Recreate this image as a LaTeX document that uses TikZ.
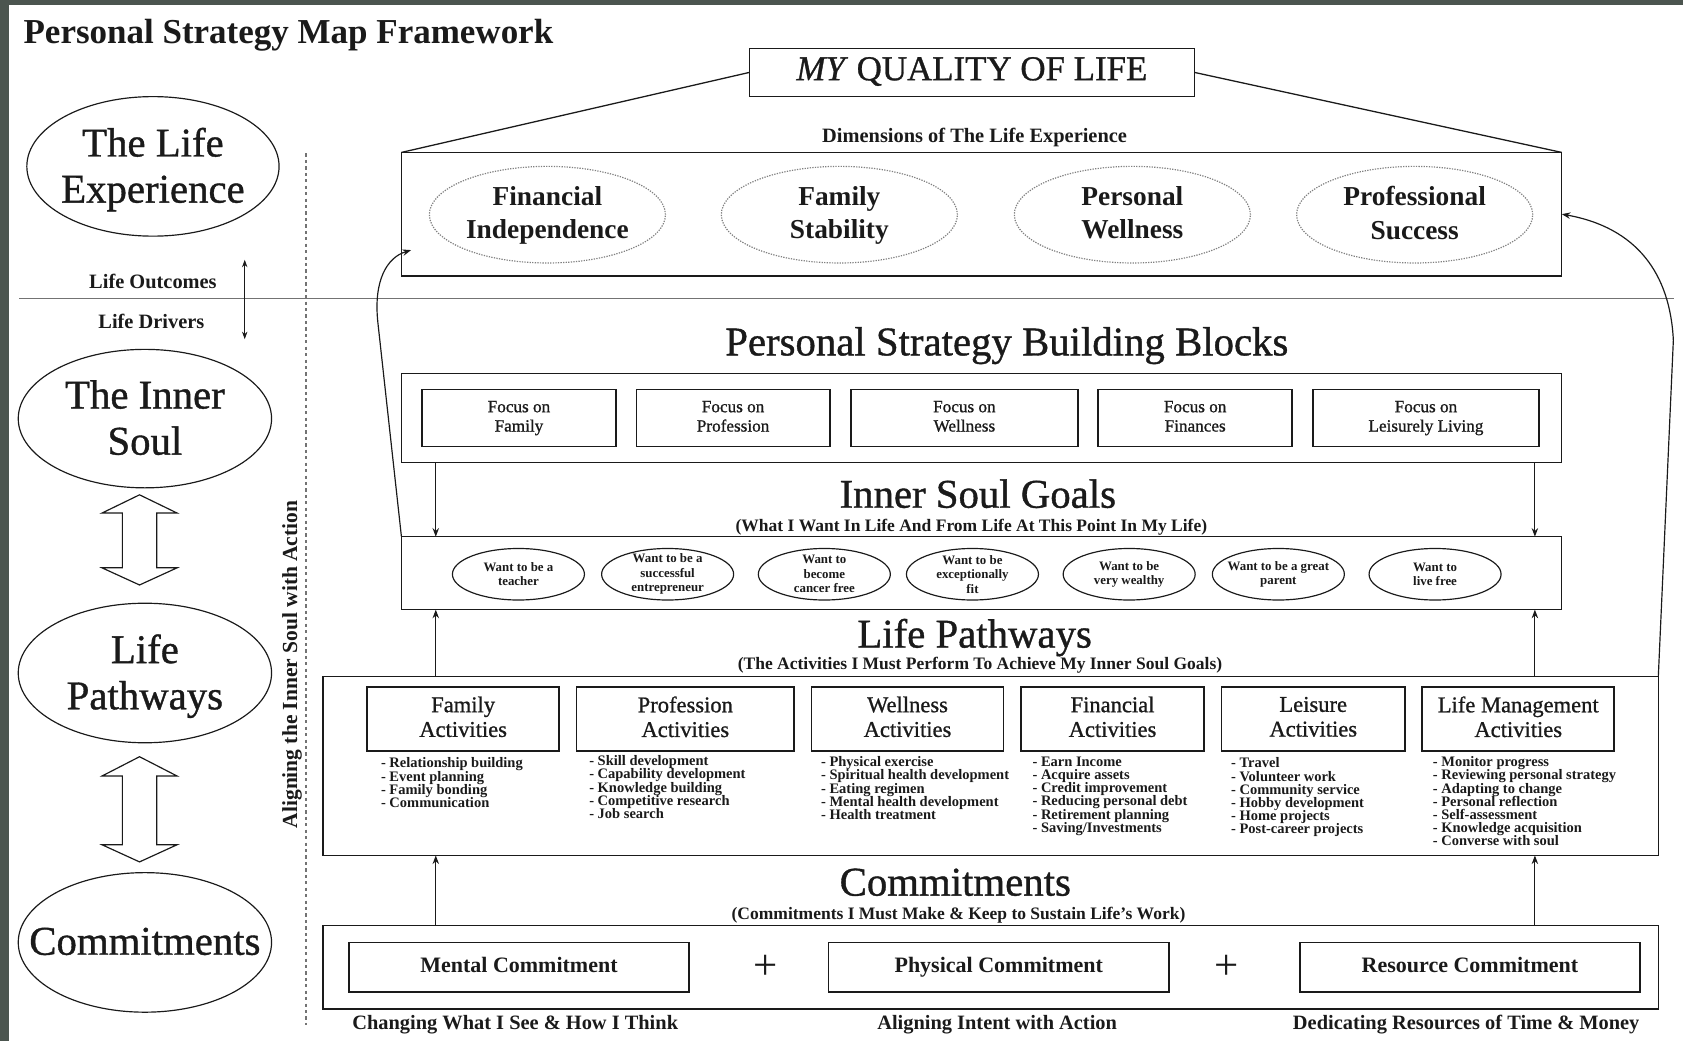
\documentclass[tikz,border=0pt]{standalone}
\usepackage{fontspec}
\setmainfont{Liberation Serif}
\newfontfamily\medfont[FakeBold=0.9]{Liberation Serif}
\newcommand\tightls{\lineskiplimit=-5pt\relax}
\newcommand\vp{\vphantom{Agy}}
\usetikzlibrary{shapes.geometric,arrows.meta,fit,calc}
\definecolor{frame}{HTML}{4B554F}
\definecolor{ink}{HTML}{1A1A1A}
\begin{document}
\begin{tikzpicture}[x=0.5pt,y=-0.5pt,
  every node/.style={inner sep=0pt,outer sep=0pt,text=ink},
  sz/.style n args={2}{minimum width=#1*0.5pt,minimum height=#2*0.5pt},
  box/.style={draw=ink,line width=0.65pt,rectangle},
  ibox/.style={draw=ink,line width=0.8pt,rectangle,align=center},
  oval/.style={draw=ink,line width=0.55pt,ellipse},
  dimoval/.style={draw=black!50,line width=0.55pt,ellipse,dash pattern=on 0.6pt off 0.6pt},
  goal/.style={draw=ink,line width=0.55pt,ellipse,sz={123}{48}},
  goalt/.style={align=center,font=\fontsize{6}{6.75}\selectfont\bfseries\tightls},
  conn/.style={draw=ink,line width=0.55pt,-{Stealth[length=4pt,width=3pt]}},
  bigt/.style={align=center,font=\fontsize{19}{21.5}\selectfont\medfont},
  ovt/.style={bigt,yshift=-1.5pt},
  subt/.style={font=\fontsize{8.15}{9}\selectfont\bfseries},
  dimt/.style={align=center,font=\fontsize{12.75}{15.5}\selectfont\bfseries,yshift=-0.5pt},
  focus/.style={ibox,font=\fontsize{8}{9}\selectfont\medfont},
  act/.style={ibox,font=\fontsize{10.5}{11.5}\selectfont\medfont},
  lst/.style={anchor=north west,align=left,font=\fontsize{6.75}{6.15}\selectfont\bfseries\tightls},
  combox/.style={ibox,font=\fontsize{10.25}{12}\selectfont\bfseries},
  side/.style={font=\fontsize{9.5}{11}\selectfont\bfseries},
  hollow/.style={draw=ink,line width=0.55pt,fill=white,line join=miter},
]
\useasboundingbox (0,0) rectangle (1568,970);
\fill[frame] (0,0) rectangle (1568,970);
\fill[white] (8,5) rectangle (1568,970);

% title
\node[anchor=west,font=\fontsize{16.3}{18}\selectfont\bfseries] (title) at (22,33) {Personal Strategy Map Framework};

% quality of life
\node[box,sz={415}{45},font=\fontsize{16.25}{18}\selectfont\medfont] (qol) at (905.5,67.5) {\textit{MY} QUALITY OF LIFE\vp};
\node[font=\fontsize{9.5}{11}\selectfont\bfseries] (dimlbl) at (908,128) {Dimensions of The Life Experience};
\node[box,sz={1081}{115}] (dims) at (914.5,199.5) {};
\draw[ink,line width=0.6pt] (qol.west) -- (dims.north west);
\draw[ink,line width=0.6pt] (qol.east) -- (dims.north east);

\node[dimoval,sz={220}{90}] (fin) at (510,200) {};
\node[dimt] (fint) at (fin) {Financial\vp\\Independence\vp};
\node[dimoval,sz={220}{90}] (fam) at (782,200) {};
\node[dimt] (famt) at (fam) {Family\vp\\Stability\vp};
\node[dimoval,sz={220}{90}] (wel) at (1055,200) {};
\node[dimt] (welt) at (wel) {Personal\vp\\Wellness\vp};
\node[dimoval,sz={220}{90}] (pro) at (1318,200) {};
\node[dimt] (prot) at (pro) {Professional\vp\\Success\vp};

% separator
\draw[black!55,line width=0.7pt] (18,278) -- (1560,278);
\node[side] (outc) at (142.5,262) {Life Outcomes};
\node[side] (driv) at (141,299) {Life Drivers};
\coordinate (ldtop) at (228,242);
\coordinate (ldbot) at (228,316);
\draw[ink,line width=0.5pt,{Stealth[length=3.5pt,width=2.5pt]}-{Stealth[length=3.5pt,width=2.5pt]}] (ldtop) -- (ldbot);

% dotted divider
\draw[black!55,line width=0.8pt,dash pattern=on 1.5pt off 1.5pt] (285,143) -- (285,955);
\node[rotate=90,font=\fontsize{10}{12}\selectfont\bfseries] (align) at (272,619) {Aligning the Inner Soul with Action};

% left ellipses
\node[oval,sz={235}{130}] (lifeexp) at (142.5,155) {};
\node[ovt] (lifeexpt) at (lifeexp) {The Life\vp\\Experience\vp};
\node[oval,sz={236}{129}] (soul) at (135,390) {};
\node[ovt] (soult) at (soul) {The Inner\vp\\Soul\vp};
\node[oval,sz={236}{130}] (path) at (135,627) {};
\node[ovt] (patht) at (path) {Life\vp\\Pathways\vp};
\node[oval,sz={236}{130}] (comm) at (135,878) {};
\node[ovt] (commt) at (comm) {Commitments\vp};

% hollow double arrows
\draw[hollow] (130,461) -- (165,478) -- (146,478) -- (146,529) -- (165,529) -- (130,545) -- (95,529) -- (114,529) -- (114,478) -- (95,478) -- cycle;
\draw[hollow] (130,705) -- (165,723) -- (146,723) -- (146,787) -- (165,787) -- (130,803) -- (95,787) -- (114,787) -- (114,723) -- (95,723) -- cycle;

% column coordinates for vertical connectors
\coordinate (colL) at (406,0);
\coordinate (colR) at (1430,0);

% building blocks
\node[bigt] (bbt) at (938,322) {Personal Strategy Building Blocks};
\node[box,sz={1081}{83}] (bb) at (914.5,389.5) {};
\node[focus,sz={181}{53}] (f1) at (483.5,389.5) {Focus on\vp\\Family\vp};
\node[focus,sz={180}{53}] (f2) at (683,389.5) {Focus on\vp\\Profession\vp};
\node[focus,sz={211}{53}] (f3) at (898.5,389.5) {Focus on\vp\\Wellness\vp};
\node[focus,sz={181}{53}] (f4) at (1113.5,389.5) {Focus on\vp\\Finances\vp};
\node[focus,sz={211}{53}] (f5) at (1328.5,389.5) {Focus on\vp\\Leisurely Living\vp};

% inner soul goals
\node[bigt] (isgt) at (911,460) {Inner Soul Goals};
\node[subt] (isgs) at (905,491) {(What I Want In Life And From Life At This Point In My Life)};
\node[box,sz={1081}{68}] (goals) at (914.5,534) {};
\node[goal] (g1) at (483,535) {};
\node[goalt] (g1t) at (g1) {Want to be a\\teacher};
\node[goal] (g2) at (622,535) {};
\node[goalt] (g2t) at (g2) {Want to be a\\successful\\entrepreneur};
\node[goal] (g3) at (768,535) {};
\node[goalt] (g3t) at (g3) {Want to\\become\\cancer free};
\node[goal] (g4) at (906,535) {};
\node[goalt] (g4t) at (g4) {Want to be\\exceptionally\\fit};
\node[goal] (g5) at (1052,535) {};
\node[goalt] (g5t) at (g5) {Want to be\\very wealthy};
\node[goal] (g6) at (1191,535) {};
\node[goalt] (g6t) at (g6) {Want to be a great\\parent};
\node[goal] (g7) at (1337,535) {};
\node[goalt] (g7t) at (g7) {Want to\\live free};

\draw[conn] (bb.south -| colL) -- (goals.north -| colL);
\draw[conn] (bb.south -| colR) -- (goals.north -| colR);

% life pathways
\node[bigt] (lpt) at (908,594) {Life Pathways};
\node[subt] (lps) at (913,620) {(The Activities I Must Perform To Achieve My Inner Soul Goals)};
\node[box,sz={1244}{167}] (lp) at (923,713.5) {};
\node[act,sz={179}{60}] (a1) at (431.5,670) {Family\vp\\Activities\vp};
\node[act,sz={203}{60}] (a2) at (638.5,670) {Profession\vp\\Activities\vp};
\node[act,sz={179}{60}] (a3) at (845.5,670) {Wellness\vp\\Activities\vp};
\node[act,sz={171}{60}] (a4) at (1036.5,670) {Financial\vp\\Activities\vp};
\node[act,sz={171}{60}] (a5) at (1223.5,670) {Leisure\vp\\Activities\vp};
\node[act,sz={179}{60}] (a6) at (1414.5,670) {Life Management\vp\\Activities\vp};

\node[lst] (l1) at (355,706) {- Relationship building\\- Event planning\\- Family bonding\\- Communication};
\node[lst] (l2) at (549,704) {- Skill development\\- Capability development\\- Knowledge building\\- Competitive research\\- Job search};
\node[lst] (l3) at (765,705) {- Physical exercise\\- Spiritual health development\\- Eating regimen\\- Mental health development\\- Health treatment};
\node[lst] (l4) at (962,705) {- Earn Income\\- Acquire assets\\- Credit improvement\\- Reducing personal debt\\- Retirement planning\\- Saving/Investments};
\node[lst] (l5) at (1147,706) {- Travel\\- Volunteer work\\- Community service\\- Hobby development\\- Home projects\\- Post-career projects};
\node[lst] (l6) at (1335,705) {- Monitor progress\\- Reviewing personal strategy\\- Adapting to change\\- Personal reflection\\- Self-assessment\\- Knowledge acquisition\\- Converse with soul};

\draw[conn] (lp.north -| colL) -- (goals.south -| colL);
\draw[conn] (lp.north -| colR) -- (goals.south -| colR);

% commitments
\node[bigt] (comt) at (890,822) {Commitments};
\node[subt] (coms) at (893,853) {(Commitments I Must Make \& Keep to Sustain Life's Work)};
\node[box,sz={1244}{78}] (cb) at (923,901) {};
\node[combox,sz={317}{46}] (c1) at (483.5,901) {Mental Commitment\vp};
\node[combox,sz={317}{46}] (c2) at (930.5,901) {Physical Commitment\vp};
\node[combox,sz={317}{46}] (c3) at (1369.5,901) {Resource Commitment\vp};
\node[font=\fontsize{20}{22}\selectfont] (plus1) at (713,901) {+};
\node[font=\fontsize{20}{22}\selectfont] (plus2) at (1143,901) {+};
\node[side] (b1) at (480,955) {Changing What I See \& How I Think\vp};
\node[side] (b2) at (929,955) {Aligning Intent with Action\vp};
\node[side] (b3) at (1366,955) {Dedicating Resources of Time \& Money\vp};

\draw[conn] (cb.north -| colL) -- (lp.south -| colL);
\draw[conn] (cb.north -| colR) -- (lp.south -| colR);

% feedback curves
\coordinate (lin) at ($(dims.south west)+(9,-24)$);
\coordinate (lbend) at (352,300);
\coordinate (rbend) at (1559,317);
\draw[conn] (goals.north west) -- (lbend) .. controls (348,262) and (360,240) .. (lin);
\draw[conn] (lp.north east) -- (rbend) .. controls (1556,255) and (1525,212) .. (dims.east);
\end{tikzpicture}
\end{document}
